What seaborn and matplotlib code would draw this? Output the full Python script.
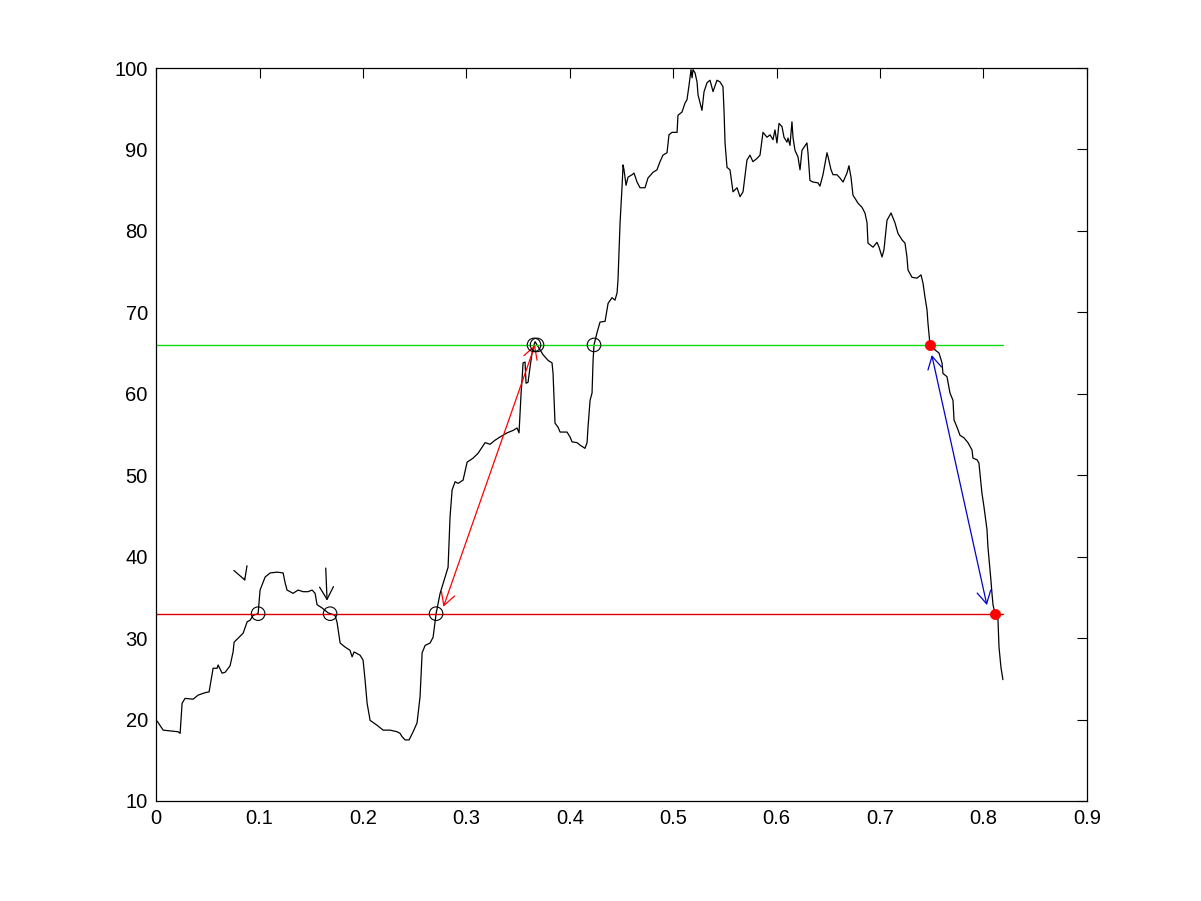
import numpy as np
import pandas as pd
import seaborn as sns
import matplotlib
matplotlib.use('Agg')
import matplotlib.pyplot as plt

# price-like path
curve_x = [0.001, 0.0068, 0.0213, 0.0232, 0.0251, 0.0280, 0.0358, 0.0406, 0.0474, 0.0512,
           0.0532, 0.0551, 0.0590, 0.0599, 0.0638, 0.0667, 0.0715, 0.0744, 0.0754, 0.0793,
           0.0841, 0.0880, 0.0909, 0.0938, 0.0986, 0.1005, 0.1054, 0.1102, 0.1170, 0.1228,
           0.1247, 0.1266, 0.1324, 0.1373, 0.1421, 0.1469, 0.1508, 0.1537, 0.1556, 0.1605,
           0.1663, 0.1730, 0.1750, 0.1779, 0.1827, 0.1875, 0.1895, 0.1914, 0.1972, 0.2001,
           0.2020, 0.2040, 0.2069, 0.2136, 0.2195, 0.2262, 0.2330, 0.2359, 0.2378, 0.2407,
           0.2446, 0.2485, 0.2523, 0.2552, 0.2572, 0.2601, 0.2649, 0.2678, 0.2707, 0.2746,
           0.2794, 0.2823, 0.2842, 0.2862, 0.2891, 0.2920, 0.2968, 0.3007, 0.3065, 0.3113,
           0.3181, 0.3229, 0.3277, 0.3326, 0.3393, 0.3451, 0.3490, 0.3509, 0.3529, 0.3538,
           0.3548, 0.3567, 0.3577, 0.3596, 0.3616, 0.3635, 0.3654, 0.3664, 0.3683, 0.3741,
           0.3790, 0.3828, 0.3838, 0.3857, 0.3886, 0.3906, 0.3973, 0.4002, 0.4022, 0.4070,
           0.4099, 0.4147, 0.4167, 0.4176, 0.4196, 0.4215, 0.4225, 0.4234, 0.4263, 0.4292,
           0.4341, 0.4370, 0.4408, 0.4437, 0.4457, 0.4466, 0.4486, 0.4505, 0.4515, 0.4524,
           0.4544, 0.4563, 0.4602, 0.4621, 0.4650, 0.4679, 0.4727, 0.4756, 0.4805, 0.4843,
           0.4872, 0.4901, 0.4940, 0.4959, 0.4988, 0.5037, 0.5046, 0.5085, 0.5114, 0.5133,
           0.5153, 0.5172, 0.5182, 0.5191, 0.5211, 0.5230, 0.5240, 0.5278, 0.5298, 0.5327,
           0.5356, 0.5385, 0.5423, 0.5452, 0.5481, 0.5491, 0.5501, 0.5520, 0.5549, 0.5578,
           0.5617, 0.5646, 0.5675, 0.5713, 0.5742, 0.5771, 0.5810, 0.5839, 0.5868, 0.5907,
           0.5936, 0.5965, 0.5984, 0.6003, 0.6023, 0.6052, 0.6071, 0.6100, 0.6110, 0.6129,
           0.6148, 0.6158, 0.6177, 0.6206, 0.6226, 0.6245, 0.6293, 0.6303, 0.6322, 0.6351,
           0.6400, 0.6419, 0.6448, 0.6487, 0.6497, 0.6526, 0.6545, 0.6583, 0.6612, 0.6642,
           0.6680, 0.6699, 0.6719, 0.6738, 0.6787, 0.6825, 0.6854, 0.6874, 0.6883, 0.6932,
           0.6970, 0.6990, 0.7019, 0.7038, 0.7067, 0.7106, 0.7144, 0.7173, 0.7212, 0.7241,
           0.7260, 0.7270, 0.7309, 0.7357, 0.7396, 0.7415, 0.7434, 0.7454, 0.7463, 0.7483,
           0.7531, 0.7570, 0.7599, 0.7608, 0.7647, 0.7676, 0.7705, 0.7715, 0.7744, 0.7773,
           0.7811, 0.7850, 0.7889, 0.7898, 0.7937, 0.7956, 0.7985, 0.8005, 0.8034, 0.8043,
           0.8072, 0.8082, 0.8092, 0.8111, 0.8140, 0.8150, 0.8169, 0.8188]
curve_y = [19.8, 18.7, 18.5, 18.3, 22.0, 22.6, 22.5, 23.0, 23.3, 23.4,
           24.9, 26.3, 26.3, 26.7, 25.7, 25.8, 26.6, 28.3, 29.5, 30.0,
           30.6, 32.0, 32.2, 32.8, 33.0, 35.9, 37.5, 38.0, 38.1, 38.0,
           36.8, 35.9, 35.5, 35.9, 35.7, 35.7, 35.9, 35.5, 34.1, 33.7,
           33.1, 32.8, 31.9, 29.4, 28.9, 28.5, 27.7, 28.3, 27.9, 27.3,
           24.9, 22.0, 19.9, 19.3, 18.7, 18.7, 18.5, 18.3, 17.9, 17.5,
           17.5, 18.5, 19.6, 22.8, 28.2, 29.1, 29.4, 30.1, 33.0, 35.5,
           37.5, 38.7, 44.9, 48.2, 49.2, 49.0, 49.4, 51.6, 52.1, 52.7,
           54.0, 53.8, 54.3, 54.7, 55.2, 55.5, 55.8, 55.2, 60.1, 61.7,
           63.8, 63.9, 61.3, 61.4, 63.3, 65.0, 66.0, 66.4, 66.0, 64.8,
           64.1, 63.8, 62.5, 56.4, 55.9, 55.3, 55.3, 54.7, 54.1, 54.0,
           53.7, 53.3, 54.0, 55.9, 59.2, 60.1, 64.1, 66.0, 67.5, 68.8,
           68.9, 71.1, 71.8, 71.5, 72.4, 74.0, 81.0, 85.4, 88.1, 87.5,
           85.6, 86.6, 86.9, 87.1, 86.0, 85.3, 85.3, 86.5, 87.2, 87.5,
           88.5, 89.3, 89.6, 91.8, 92.1, 92.1, 94.2, 94.6, 95.7, 96.1,
           97.9, 99.8, 98.8, 99.8, 99.4, 98.3, 96.7, 94.8, 97.1, 98.2,
           98.5, 97.1, 98.5, 98.3, 97.7, 94.8, 90.8, 87.8, 87.5, 84.8,
           85.3, 84.2, 84.8, 88.7, 89.3, 88.5, 88.9, 89.3, 92.1, 91.5,
           91.8, 91.2, 92.4, 90.8, 93.2, 92.8, 91.5, 90.9, 91.4, 90.5,
           93.4, 91.5, 89.9, 89.1, 87.5, 89.9, 90.8, 89.6, 86.2, 86.0,
           85.9, 85.5, 86.9, 89.6, 89.1, 87.5, 86.9, 86.9, 86.5, 86.0,
           87.1, 88.0, 86.6, 84.4, 83.4, 82.9, 82.2, 81.0, 78.5, 78.0,
           78.6, 78.0, 76.8, 77.7, 81.3, 82.2, 81.0, 79.7, 78.9, 78.5,
           76.8, 75.2, 74.3, 74.2, 74.6, 73.6, 71.9, 70.3, 68.7, 66.0,
           65.4, 65.0, 63.8, 62.5, 62.1, 60.1, 59.2, 56.8, 55.9, 54.9,
           54.6, 54.0, 53.1, 52.1, 51.9, 51.5, 47.8, 46.1, 43.3, 41.2,
           37.1, 35.5, 34.1, 33.0, 32.3, 28.9, 26.4, 24.9]

# two threshold levels
low_level = 33
high_level = 66
level_x = [0, 0.819]

# crossings marked with open circles
open_x = [0.0986, 0.1682, 0.2707, 0.3654, 0.3683, 0.4234]
open_y = [33, 33, 33, 66, 66, 66]

# crossings marked with red dots
dot_x = [0.7483, 0.8111]
dot_y = [66, 33]

# arrows: (tail, tip)
black_arrows = [((0.0851, 37.35), (0.0861, 37.0)),
                ((0.1640, 38.6), (0.1653, 34.6))]
red_arrow = ((0.2778, 33.85), (0.3664, 66.0))
blue_arrow = ((0.8033, 34.06), (0.7500, 64.76))

sns.set_style('white')
plt.rcParams['font.family'] = ['Liberation Sans', 'DejaVu Sans']

fig = plt.figure(figsize=(12.01, 9.01), dpi=100)
ax = fig.add_axes([0.13, 0.111, 0.775, 0.8135])

df = pd.DataFrame({'x': curve_x, 'y': curve_y})
sns.lineplot(data=df, x='x', y='y', ax=ax, color='black', lw=0.9,
             estimator=None, sort=False)

ax.plot(level_x, [low_level, low_level], color='#e00000', lw=1.0)
ax.plot(level_x, [high_level, high_level], color='#11dd11', lw=1.0)

sns.scatterplot(x=open_x, y=open_y, ax=ax, marker='o', s=95,
                facecolor='none', edgecolor='black', linewidth=0.8, zorder=5)
sns.scatterplot(x=dot_x, y=dot_y, ax=ax, marker='o', s=55,
                color='red', edgecolor='red', linewidth=0.5, zorder=5)

head = 'head_length=0.45,head_width=0.25'
for tail, tip in black_arrows:
    ax.annotate('', xy=tip, xytext=tail,
                arrowprops=dict(arrowstyle='->,' + head, color='black', lw=0.9,
                                shrinkA=0, shrinkB=0, mutation_scale=20))
ax.annotate('', xy=red_arrow[1], xytext=red_arrow[0],
            arrowprops=dict(arrowstyle='<->,' + head, color='red', lw=0.9,
                            shrinkA=0, shrinkB=0, mutation_scale=20))
ax.annotate('', xy=blue_arrow[1], xytext=blue_arrow[0],
            arrowprops=dict(arrowstyle='<->,' + head, color='#0000cc', lw=0.9,
                            shrinkA=0, shrinkB=0, mutation_scale=20))

xticks = [0, 0.1, 0.2, 0.3, 0.4, 0.5, 0.6, 0.7, 0.8, 0.9]
xlabels = ['0', '0.1', '0.2', '0.3', '0.4', '0.5', '0.6', '0.7', '0.8', '0.9']
yticks = [10, 20, 30, 40, 50, 60, 70, 80, 90, 100]

ax.set_xlim(0, 0.9)
ax.set_ylim(10, 100)
ax.set_xticks(xticks)
ax.set_xticklabels(xlabels)
ax.set_yticks(yticks)
ax.set_yticklabels([str(v) for v in yticks])
ax.set_xlabel('')
ax.set_ylabel('')
ax.tick_params(direction='in', length=7, width=0.8, top=True, right=True,
               labelsize=14.5, pad=6, colors='black')
for s in ax.spines.values():
    s.set_visible(True)
    s.set_color('black')
    s.set_linewidth(0.9)

fig.savefig('out.png', dpi=100, facecolor='white')
